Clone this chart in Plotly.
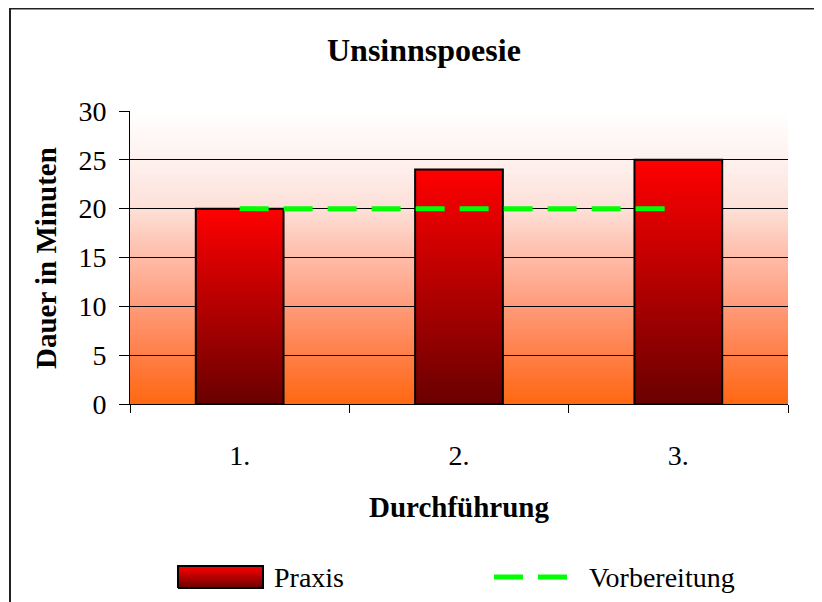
import plotly.graph_objects as go

# ---- data ----
categories = ["1.", "2.", "3."]
praxis = [20, 24, 25]
vorbereitung = [20, 20, 20]
y_ticks = [0, 5, 10, 15, 20, 25, 30]

title_text = "Unsinnspoesie"
x_title = "Durchführung"
y_title = "Dauer in Minuten"
legend_names = ["Praxis", "Vorbereitung"]

FONT = "Liberation Serif, Times New Roman, serif"

# figure is placed at (8,8) in the page by the body margin
OFF = 8
W, H = 822 - OFF, 602 - OFF


def px(x):  # page x -> paper
    return (x - OFF) / W


def py(y):  # page y -> paper
    return 1 - (y - OFF) / H


PL, PR, PT, PB = 130, 788, 111, 404  # plot area in page pixels

fig = go.Figure()

# ---- bars (gradient filled rectangles drawn from data) ----
bar_w = 0.4
grad = [[0, "#6A0000"], [1, "#FF0000"]]
for i, v in enumerate(praxis):
    fig.add_trace(go.Scatter(
        x=[i - bar_w / 2, i + bar_w / 2, i + bar_w / 2, i - bar_w / 2, i - bar_w / 2],
        y=[0, 0, v, v, 0],
        mode="lines", fill="toself",
        fillgradient=dict(type="vertical", colorscale=grad, start=0, stop=v),
        line=dict(color="black", width=2),
        name=legend_names[0], showlegend=False, hoverinfo="skip",
        xaxis="x", yaxis="y",
    ))

# ---- dashed line ----
DASH = "29px,15px"
fig.add_trace(go.Scatter(
    x=list(range(len(categories))), y=vorbereitung,
    mode="lines", line=dict(color="#00FF00", width=5, dash=DASH),
    name=legend_names[1], showlegend=False, xaxis="x", yaxis="y",
))

# ---- manual legend on an overlay pixel axis (x2/y2 = page pixels) ----
sx0, sx1, sy0, sy1 = 178, 263, 566, 588
fig.add_trace(go.Scatter(
    x=[sx0, sx1, sx1, sx0, sx0], y=[sy1, sy1, sy0, sy0, sy1],
    mode="lines", fill="toself",
    fillgradient=dict(type="vertical", colorscale=grad, start=sy1, stop=sy0),
    line=dict(color="black", width=2),
    showlegend=False, hoverinfo="skip", xaxis="x2", yaxis="y2",
))
fig.add_trace(go.Scatter(
    x=[494, 568], y=[577, 577], mode="lines",
    line=dict(color="#00FF00", width=5, dash=DASH),
    showlegend=False, hoverinfo="skip", xaxis="x2", yaxis="y2",
))

annotations = [
    dict(text=legend_names[0], x=272, y=577, xref="x2", yref="y2",
         xanchor="left", yanchor="middle", showarrow=False,
         font=dict(family=FONT, size=28, color="black")),
    dict(text=legend_names[1], x=587, y=577, xref="x2", yref="y2",
         xanchor="left", yanchor="middle", showarrow=False,
         font=dict(family=FONT, size=28, color="black")),
    dict(text=f"<b>{title_text}</b>", x=424, y=50, xref="x2", yref="y2",
         xanchor="center", yanchor="middle", showarrow=False,
         font=dict(family=FONT, size=32, color="black")),
    dict(text=f"<b>{x_title}</b>", x=459, y=507, xref="x2", yref="y2",
         xanchor="center", yanchor="middle", showarrow=False,
         font=dict(family=FONT, size=29, color="black")),
    dict(text=f"<b>{y_title}</b>", x=46, y=258, xref="x2", yref="y2",
         xanchor="center", yanchor="middle", showarrow=False, textangle=-90,
         font=dict(family=FONT, size=29, color="black")),
]

# ---- background gradient bands (below grid) ----
stops = [
    (0.0, (0xFF, 0x68, 0x12)),
    (1 / 6, (0xFF, 0x7E, 0x48)),
    (2 / 6, (0xFF, 0x9B, 0x7A)),
    (3 / 6, (0xFF, 0xBB, 0xA8)),
    (4 / 6, (0xFD, 0xE0, 0xD8)),
    (5 / 6, (0xFE, 0xF1, 0xEE)),
    (1.0, (0xFF, 0xFF, 0xFF)),
]


def interp(t):
    for (t0, c0), (t1, c1) in zip(stops[:-1], stops[1:]):
        if t0 <= t <= t1:
            f = (t - t0) / (t1 - t0)
            return tuple(round(a + (b - a) * f) for a, b in zip(c0, c1))
    return stops[-1][1]


shapes = []
N = 146
for k in range(N):
    y0 = k / N
    y1 = (k + 1) / N
    r, g, b = interp((y0 + y1) / 2)
    shapes.append(dict(type="rect", xref="x domain", yref="y domain",
                       x0=0, x1=1, y0=y0, y1=min(1, y1 + 0.003),
                       fillcolor=f"rgb({r},{g},{b})", line=dict(width=0),
                       layer="below"))

# outer frame (top-left corner visible, rest runs off the page)
shapes.append(dict(type="rect", xref="x2", yref="y2",
                   x0=10, x1=840, y0=8.5, y1=620,
                   line=dict(color="#222", width=2), fillcolor="rgba(0,0,0,0)",
                   layer="above"))

fig.update_layout(
    template="none",
    width=W, height=H, autosize=False,
    margin=dict(l=0, r=0, t=0, b=0, pad=0, autoexpand=False),
    paper_bgcolor="white",
    plot_bgcolor="rgba(0,0,0,0)",
    font=dict(family=FONT, size=28, color="black"),
    shapes=shapes,
    annotations=annotations,
    showlegend=False,
    xaxis=dict(
        domain=[px(PL), px(PR)], anchor="y", automargin=False,
        range=[-0.5, len(categories) - 0.5],
        tickmode="array", tickvals=list(range(len(categories))), ticktext=categories,
        ticks="", showgrid=False, zeroline=False,
        showline=True, linecolor="black", linewidth=1,
        ticklabelstandoff=26,
        tickfont=dict(family=FONT, size=28),
        minor=dict(tickmode="array",
                   tickvals=[i - 0.5 for i in range(len(categories) + 1)],
                   ticks="outside", ticklen=8, tickcolor="black", tickwidth=1,
                   showgrid=False),
        fixedrange=True,
    ),
    yaxis=dict(
        domain=[py(PB), py(PT)], anchor="x", automargin=False,
        range=[0, 30],
        tickmode="array", tickvals=y_ticks, ticktext=[str(v) for v in y_ticks],
        ticks="outside", ticklen=10, tickcolor="black", tickwidth=1,
        showgrid=True, gridcolor="black", gridwidth=1,
        zeroline=False, showline=True, linecolor="black", linewidth=1,
        ticklabelstandoff=7,
        tickfont=dict(family=FONT, size=28),
        fixedrange=True,
    ),
    xaxis2=dict(domain=[0, 1], anchor="y2", range=[OFF, OFF + W],
                visible=False, fixedrange=True, automargin=False),
    yaxis2=dict(domain=[0, 1], anchor="x2", range=[OFF + H, OFF],
                visible=False, fixedrange=True, automargin=False),
)

fig.write_html("out.html")
